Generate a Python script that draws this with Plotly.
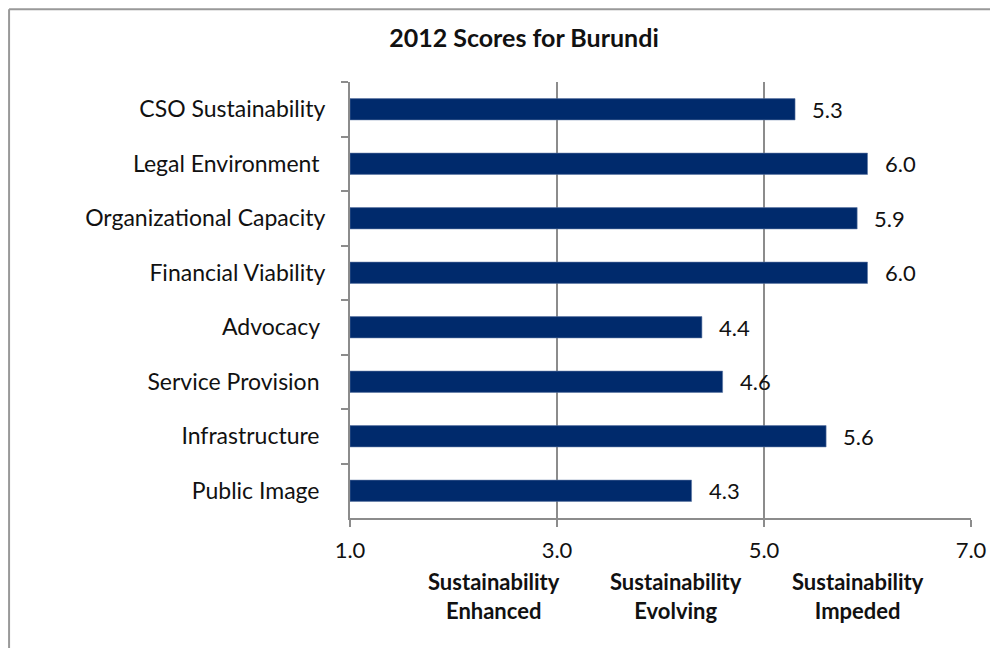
import plotly.graph_objects as go

# Scores (top to bottom)
categories = [
    "CSO Sustainability",
    "Legal Environment ",
    "Organizational Capacity",
    "Financial Viability",
    "Advocacy ",
    "Service Provision ",
    "Infrastructure ",
    "Public Image ",
]
scores = [5.3, 6.0, 5.9, 6.0, 4.4, 4.6, 5.6, 4.3]
x_ticks = [1, 3, 5, 7]
band_labels = [
    "Sustainability<br>Enhanced",
    "Sustainability<br>Evolving",
    "Sustainability<br>Impeded",
]
band_centers = [0.232, 0.525, 0.818]

FONT = "Lato, 'Open Sans', sans-serif"
BAR_COLOR = "#002A6C"
GREY = "#8c8c8c"

fig = go.Figure()

# bars start from 1.0 (the bottom of the score scale)
fig.add_trace(
    go.Bar(
        y=categories,
        x=[s - 1 for s in scores],
        base=1,
        orientation="h",
        width=0.39,
        marker=dict(color=BAR_COLOR, line=dict(color="#5a76a3", width=0.6)),
        hoverinfo="skip",
        showlegend=False,
    )
)

# value labels to the right of each bar
for cat, s in zip(categories, scores):
    fig.add_annotation(
        x=s,
        y=cat,
        text=f"{s:.1f}",
        xanchor="left",
        xshift=15,
        showarrow=False,
        font=dict(size=22, color="#111111", family=FONT),
    )

# band descriptions under the x axis
for txt, cx in zip(band_labels, band_centers):
    fig.add_annotation(
        x=cx,
        y=-0.179,
        xref="paper",
        yref="paper",
        text=f"<b>{txt}</b>",
        showarrow=False,
        align="center",
        xanchor="center",
        yanchor="middle",
        font=dict(size=22, color="#111111", family=FONT),
    )

# outer frame (only top and left edges are visible in the crop)
fig.add_shape(type="line", xref="paper", yref="paper",
              x0=-0.549, x1=1.07, y0=1.167, y1=1.167,
              line=dict(color="#999999", width=2))
fig.add_shape(type="line", xref="paper", yref="paper",
              x0=-0.549, x1=-0.549, y0=1.167, y1=-0.33,
              line=dict(color="#999999", width=2))

fig.update_layout(
    width=998,
    height=648,
    margin=dict(l=342, r=35, t=74, b=138),
    paper_bgcolor="white",
    plot_bgcolor="white",
    font=dict(family=FONT, color="#111111"),
    title=dict(
        text="<b>2012 Scores for Burundi</b>",
        x=0.517,
        xanchor="center",
        y=0.954,
        yanchor="middle",
        font=dict(size=25, family=FONT, color="#111111"),
    ),
    xaxis=dict(
        range=[1, 7],
        tickvals=x_ticks,
        tickformat=".1f",
        showgrid=True,
        gridcolor=GREY,
        gridwidth=1.5,
        showline=True,
        linecolor=GREY,
        linewidth=2,
        ticks="outside",
        ticklen=7,
        tickcolor=GREY,
        tickwidth=2,
        ticklabelstandoff=5,
        tickfont=dict(size=22, family=FONT, color="#111111"),
        zeroline=False,
        fixedrange=True,
    ),
    yaxis=dict(
        categoryorder="array",
        categoryarray=categories,
        autorange="reversed",
        showgrid=False,
        showline=True,
        linecolor=GREY,
        linewidth=2,
        ticks="outside",
        tickson="boundaries",
        ticklen=7,
        tickcolor=GREY,
        tickwidth=2,
        ticklabelstandoff=18,
        tickfont=dict(size=23, family=FONT, color="#111111"),
        fixedrange=True,
    ),
)

fig.write_html("out.html")
